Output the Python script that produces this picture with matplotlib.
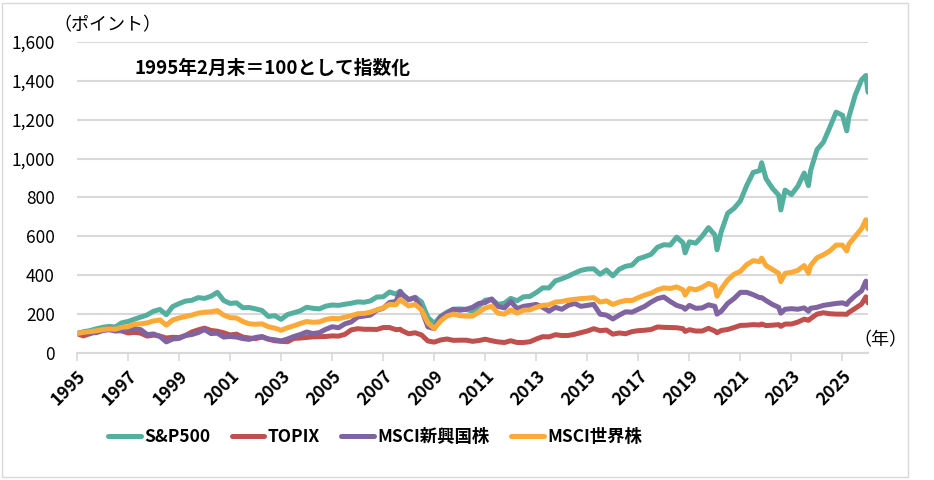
import matplotlib
matplotlib.use('Agg')
import matplotlib.pyplot as plt
from matplotlib.patches import Rectangle

plt.rcParams['font.family'] = ['Noto Sans CJK JP', 'DejaVu Sans']

# sample months: quarterly (Feb/May/Aug/Nov) plus a few turning points
quarters = [f'{y}-{m:02d}' for y in range(1995, 2026) for m in (2, 5, 8, 11)] + ['2026-02']
extras = ['2007-10', '2018-12', '2020-03', '2021-12', '2022-09',
          '2023-10', '2025-04', '2026-01']
dates = sorted(quarters + extras)

series_names = ['S&P500', 'TOPIX', 'MSCI新興国株', 'MSCI世界株']
colors = ['#55AF9E', '#C0504D', '#8064A2', '#FBAA38']

sp500 = [
    100, 109, 115, 124,  # 1995
    132, 137, 134, 155,
    162, 174, 185, 196,
    215, 224, 197, 239,
    254, 267, 271, 285,
    281, 292, 312, 270,  # 2000
    255, 258, 233, 234,
    227, 219, 188, 192,
    173, 198, 207, 217,
    235, 230, 227, 241,
    247, 245, 251, 256,  # 2005
    263, 261, 268, 288,
    289, 314, 303, 318, 304,
    273, 287, 263, 184,
    151, 189, 210, 225,
    227, 224, 215, 242,  # 2010
    272, 276, 250, 256,
    281, 269, 289, 291,
    311, 335, 335, 371,
    382, 395, 411, 425,
    432, 433, 405, 427,  # 2015
    397, 431, 446, 452,
    485, 495, 508, 544,
    557, 555, 596, 567, 515,
    572, 565, 601, 645,
    607, 531, 625, 719, 744,  # 2020
    783, 863, 929, 938, 979,
    898, 848, 812, 736, 838,
    815, 858, 926, 861, 938,
    1046, 1084, 1160, 1239,
    1223, 1143, 1214, 1327, 1406,  # 2025
    1428, 1342,
]

topix = [
    100, 88, 99, 108,
    117, 126, 119, 114,
    103, 106, 102, 87,
    92, 87, 77, 81,
    79, 90, 108, 119,
    128, 116, 112, 104,
    93, 97, 82, 77,
    74, 82, 71, 63,
    60, 58, 75, 77,
    80, 83, 84, 85,
    88, 87, 96, 119,
    125, 122, 122, 121,
    131, 131, 120, 122, 114,
    99, 104, 93, 62,
    56, 67, 72, 65,
    66, 66, 60, 64,
    71, 63, 57, 54,
    63, 54, 54, 58,
    72, 84, 83, 94,
    90, 90, 96, 105,
    113, 125, 115, 118,
    97, 103, 99, 110,
    115, 117, 121, 134,
    132, 131, 130, 125, 111,
    120, 113, 113, 127,
    113, 104, 116, 121, 131,
    142, 143, 146, 144, 149,
    141, 143, 146, 137, 149,
    149, 159, 174, 168, 177,
    200, 207, 202, 200,
    200, 199, 209, 230, 252,
    289, 258,
]

msci_em = [
    100, 106, 108, 104,
    115, 120, 113, 115,
    120, 126, 120, 95,
    98, 85, 57, 72,
    75, 90, 95, 105,
    121, 100, 102, 82,
    85, 82, 74, 70,
    80, 85, 72, 68,
    62, 72, 85, 95,
    108, 100, 105, 122,
    135, 130, 150, 160,
    185, 190, 195, 220,
    230, 260, 265, 315, 300,
    275, 285, 225, 135,
    125, 185, 205, 225,
    220, 225, 235, 255,
    260, 278, 240, 232,
    265, 228, 240, 245,
    250, 235, 215, 235,
    225, 245, 255, 240,
    245, 250, 200, 195,
    175, 195, 212, 210,
    225, 240, 262, 280,
    288, 265, 245, 235, 225,
    245, 230, 232, 248,
    240, 200, 215, 255, 280,
    312, 312, 300, 285, 285,
    270, 250, 235, 205, 225,
    228, 225, 232, 215, 230,
    235, 245, 250, 255,
    258, 250, 265, 295, 320,
    370, 333,
]

msci_world = [
    100, 106, 110, 114,
    120, 124, 122, 132,
    135, 148, 150, 155,
    165, 170, 143, 170,
    180, 188, 195, 205,
    210, 212, 218, 195,
    182, 180, 162, 150,
    148, 150, 135, 128,
    117, 130, 140, 152,
    162, 158, 160, 172,
    178, 176, 184, 192,
    202, 204, 210, 222,
    232, 250, 248, 275, 265,
    242, 250, 222, 155,
    126, 165, 190, 200,
    192, 190, 190, 210,
    232, 240, 205, 200,
    222, 205, 220, 222,
    235, 245, 248, 262,
    265, 272, 276, 280,
    282, 285, 262, 268,
    250, 262, 270, 270,
    285, 298, 308, 325,
    335, 332, 340, 325, 298,
    332, 325, 338, 358,
    345, 292, 330, 375, 405,
    420, 455, 475, 470, 488,
    450, 430, 410, 367, 410,
    415, 425, 450, 410, 450,
    490, 505, 525, 555,
    555, 525, 560, 600, 640,
    686, 638,
]

tick_years = list(range(1995, 2026, 2))
y_ticks = list(range(0, 1601, 200))


def month_index(d):
    return int(d[:4]) * 12 + int(d[5:]) - (1995 * 12 + 2)


def main():
    x = [month_index(d) for d in dates]
    fig = plt.figure(figsize=(9.34, 4.8), dpi=100)
    ax = fig.add_axes([77 / 934, 127 / 480, 791 / 934, 311 / 480])

    for name, vals, c in zip(series_names, [sp500, topix, msci_em, msci_world], colors):
        ax.plot(x, vals, color=c, lw=3.6, label=name, solid_capstyle='round')

    ax.set_xlim(0, x[-1])
    ax.set_ylim(0, 1600)
    ax.set_yticks(y_ticks, labels=[f'{v:,}' for v in y_ticks], fontsize=12.5)
    ax.set_xticks([month_index(f'{y}-02') for y in tick_years],
                  labels=[str(y) for y in tick_years], rotation=45, ha='right',
                  rotation_mode='anchor', fontsize=12.5, fontweight='bold')
    ax.tick_params(axis='y', length=0, pad=16)
    ax.tick_params(axis='x', length=6, color='#d9d9d9', width=1.2, pad=4)
    ax.grid(axis='y', color='#d9d9d9', lw=1.5)
    ax.set_axisbelow(True)
    for s in ('left', 'right', 'top'):
        ax.spines[s].set_visible(False)
    ax.spines['bottom'].set_color('#d9d9d9')
    ax.spines['bottom'].set_linewidth(1.5)

    fig.text(53 / 934, 1 - 25 / 480, '（ポイント）', fontsize=13, va='center')
    fig.text(135 / 934, 1 - 68 / 480, '1995年2月末＝100として指数化', fontsize=13.5,
             fontweight='bold', va='center')
    fig.text(880 / 934, 1 - 340 / 480, '（年）', fontsize=13, va='center', ha='center')

    fig.legend(loc='center', bbox_to_anchor=(375 / 934, 1 - 437 / 480), ncol=4,
               frameon=False, handlelength=1.9, handletextpad=0.2, columnspacing=1.2,
               prop={'size': 12.5, 'weight': 'bold'})

    fig.add_artist(Rectangle((2 / 934, 3 / 480), 906 / 934, 474 / 480,
                             transform=fig.transFigure, fill=False,
                             edgecolor='#d9d9d9', lw=1))
    plt.savefig('out.png')


if __name__ == '__main__':
    main()
